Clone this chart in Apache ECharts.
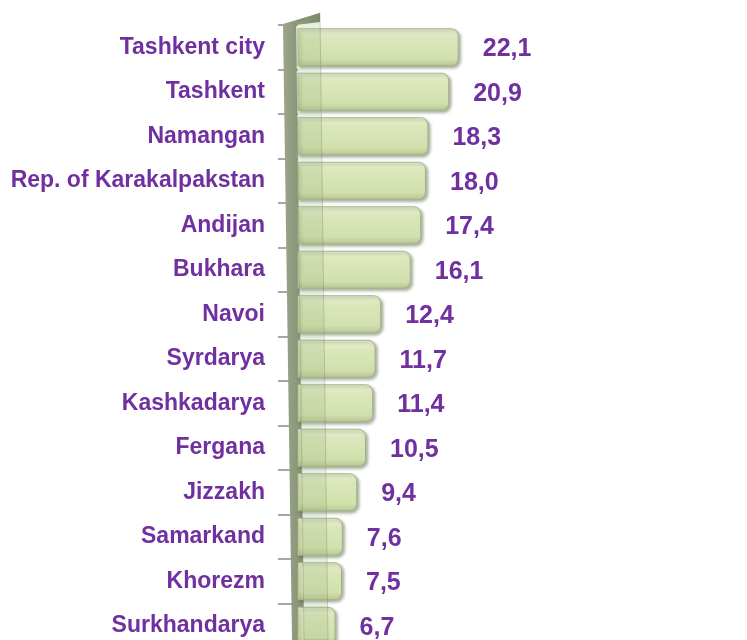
<!DOCTYPE html>
<html>
<head>
<meta charset="utf-8">
<script src="https://cdn.jsdelivr.net/npm/echarts@6/dist/echarts.min.js"></script>
<style>
  html, body { margin: 0; padding: 0; background: #fff; }
  #chart { width: 747px; height: 640px; }
</style>
</head>
<body>
<div id="chart"></div>
<script>
const regions = [
  'Tashkent city', 'Tashkent', 'Namangan', 'Rep. of Karakalpakstan', 'Andijan',
  'Bukhara', 'Navoi', 'Syrdarya', 'Kashkadarya', 'Fergana', 'Jizzakh',
  'Samarkand', 'Khorezm', 'Surkhandarya'
]
const values = [22.1, 20.9, 18.3, 18.0, 17.4, 16.1, 12.4, 11.7, 11.4, 10.5, 9.4, 7.6, 7.5, 6.7]

const purple = '#7030a0'
const myChart = echarts.init(document.getElementById('chart'))

const option = {
  backgroundColor: '#fff',
  animation: false,
  grid: { left: 298, right: 65, top: 25, height: 623, outerBoundsMode: 'none', containLabel: false },
  xAxis: {
    type: 'value',
    min: 2,
    max: 50,
    show: false
  },
  yAxis: {
    type: 'category',
    data: regions,
    inverse: true,
    axisLine: { show: false },
    axisTick: {
      show: true,
      length: 20,
      lineStyle: { color: '#8a8a8a', width: 1.5 }
    },
    axisLabel: {
      margin: 33,
      color: purple,
      fontFamily: "'Liberation Sans', Arial, sans-serif",
      fontWeight: 'bold',
      fontSize: 23,
      padding: [14, 0, 0, 0]
    }
  },
  graphic: [
    // dark side of the wall
    {
      type: 'polygon',
      z: 1,
      shape: { points: [[283, 24], [320, 13], [320, 22], [296, 25], [304, 640], [292, 640]] },
      style: {
        fill: new echarts.graphic.LinearGradient(0, 0, 1, 0, [
          { offset: 0, color: '#9ba68a' },
          { offset: 1, color: '#717d60' }
        ])
      }
    },
    // translucent front face over the bar roots
    {
      type: 'polygon',
      z: 100,
      shape: { points: [[296, 22], [320, 13], [328, 640], [304, 640]] },
      style: { fill: 'rgba(160,180,130,0.22)', stroke: 'rgba(120,135,100,0.35)', lineWidth: 1 }
    }
  ],
  series: [
    {
      type: 'bar',
      data: values,
      barWidth: 38,
      z: 5,
      itemStyle: {
        color: new echarts.graphic.LinearGradient(0, 0, 0, 1, [
          { offset: 0, color: '#e9f1d4' },
          { offset: 0.25, color: '#dbe7bb' },
          { offset: 0.8, color: '#d2e0ad' },
          { offset: 1, color: '#b6c693' }
        ]),
        borderColor: '#a6b588',
        borderWidth: 1,
        borderRadius: [0, 7, 7, 0],
        shadowColor: 'rgba(70, 85, 50, 0.45)',
        shadowBlur: 3,
        shadowOffsetX: 2,
        shadowOffsetY: 2
      },
      label: {
        show: true,
        position: 'right',
        distance: 24,
        offset: [0, 2],
        color: purple,
        fontFamily: "'Liberation Sans', Arial, sans-serif",
        fontWeight: 'bold',
        fontSize: 25,
        formatter: p => p.value.toFixed(1).replace('.', ',')
      }
    }
  ]
}

myChart.setOption(option)
</script>
</body>
</html>
